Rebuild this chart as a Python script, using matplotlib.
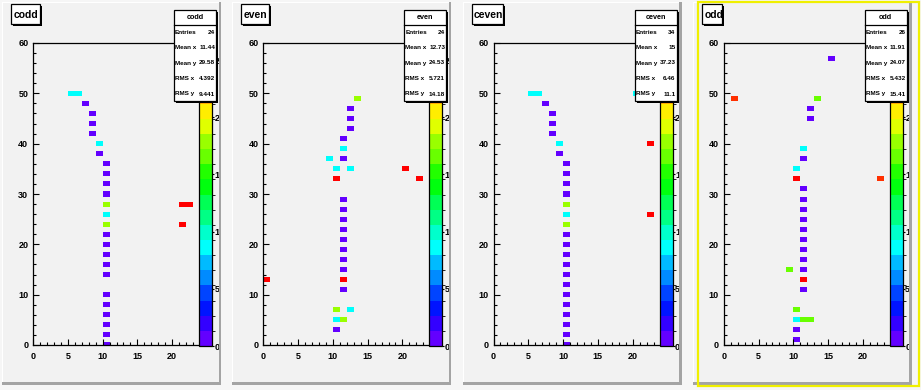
import colorsys
import numpy as np
import matplotlib
matplotlib.use("Agg")
import matplotlib.pyplot as plt
from matplotlib.colors import ListedColormap, BoundaryNorm
from matplotlib.patches import Rectangle

# ---------------- data ----------------
names = ["codd", "even", "ceven", "odd"]

codd_x = [5, 6, 7, 8, 8, 8, 9, 9, 10, 10, 10, 10, 10, 10, 10, 10, 10, 10, 10, 10,
          10, 10, 10, 10, 10, 10, 21, 22, 21]
codd_y = [50, 50, 48, 46, 44, 42, 40, 38, 36, 34, 32, 30, 28, 26, 24, 22, 20, 18,
          16, 14, 10, 8, 6, 4, 2, 0, 28, 28, 24]
codd_z = [9, 9, 1, 1, 1, 1, 9, 1, 1, 1, 1, 1, 18, 9, 18, 1, 1, 1, 1, 1, 1, 1, 1,
          1, 1, 1, 26.5, 26.5, 26]

even_x = [13, 12, 12, 12, 11, 11, 9, 11, 10, 12, 20, 10, 22, 11, 11, 11, 11, 11,
          11, 11, 11, 11, 0, 11, 10, 12, 10, 11, 10]
even_y = [49, 47, 45, 43, 41, 39, 37, 37, 35, 35, 35, 33, 33, 29, 27, 25, 23, 21,
          19, 17, 15, 13, 13, 11, 7, 7, 5, 5, 3]
even_z = [18, 1, 1, 1, 1, 9, 9, 1, 9, 9, 26, 26.5, 26, 1, 1, 1, 1, 1, 1, 1, 1, 26,
          26, 1, 18, 9, 9, 18, 1]

ceven_x = [5, 6, 7, 8, 8, 8, 9, 9, 10, 10, 10, 10, 10, 10, 10, 10, 10, 10, 10, 10,
           10, 10, 10, 10, 10, 10, 10, 20, 22, 22]
ceven_y = [50, 50, 48, 46, 44, 42, 40, 38, 36, 34, 32, 30, 28, 26, 24, 22, 20, 18,
           16, 14, 12, 10, 8, 6, 4, 2, 0, 50, 40, 26]
ceven_z = [9, 9, 1, 1, 1, 1, 9, 1, 1, 1, 1, 1, 18, 9, 18, 1, 1, 1, 1, 1, 1, 1, 1,
           1, 1, 1, 1, 9, 26.5, 26]

odd_x = [15, 1, 13, 12, 12, 11, 11, 10, 10, 22, 11, 11, 11, 11, 11, 11, 11, 11, 11,
         9, 11, 11, 10, 10, 11, 12, 10, 10]
odd_y = [57, 49, 49, 47, 45, 39, 37, 35, 33, 33, 31, 29, 27, 25, 23, 21, 19, 17, 15,
         15, 13, 11, 7, 5, 5, 5, 3, 1]
odd_z = [1, 24.5, 16.5, 1, 1, 9, 1, 9, 26.5, 24.5, 1, 1, 1, 1, 1, 1, 1, 1, 1,
         16.5, 26, 1, 16.5, 9, 16.5, 16.5, 1, 1]

stats_labels = ["Entries", "Mean x", "Mean y", "RMS x", "RMS y"]
codd_stats = ["24", "11.44", "29.58", "4.392", "9.441"]
even_stats = ["24", "12.73", "24.53", "5.721", "14.18"]
ceven_stats = ["34", "15", "37.23", "6.46", "11.1"]
odd_stats = ["26", "11.91", "24.07", "5.432", "15.41"]

x_ticks = [0, 5, 10, 15, 20]
y_ticks = [0, 10, 20, 30, 40, 50, 60]
z_ticks = [0, 5, 10, 15, 20, 25]
z_tick_labels = ["0", "5", "10", "15", "20", "25"]

panels = [
    (names[0], codd_x, codd_y, codd_z, codd_stats),
    (names[1], even_x, even_y, even_z, even_stats),
    (names[2], ceven_x, ceven_y, ceven_z, ceven_stats),
    (names[3], odd_x, odd_y, odd_z, odd_stats),
]

# ---------------- style ----------------
W, H = 921, 390
FONT = ["Liberation Sans", "DejaVu Sans"]
CANVAS = "#f6f6f6"
PADC = "#f2f2f2"
SHADOW = "#a4a4a4"


def root_palette(n=20):
    cols = []
    for j in range(n):
        idx = int((j + 0.99) * 50 / n)
        hue = max(280 - (idx + 1) * 5.6, 0)
        cols.append(colorsys.hls_to_rgb(hue / 360.0, 0.5, 1.0))
    return cols


cmap = ListedColormap(root_palette(20))

fig = plt.figure(figsize=(W / 100, H / 100), dpi=100)
fig.patch.set_facecolor(CANVAS)


def add_px(x, y, w, h, **kw):
    return fig.add_axes([x / W, 1 - (y + h) / H, w / W, h / H], **kw)


bg = fig.add_axes([0, 0, 1, 1], zorder=-5)
bg.set_xlim(0, W); bg.set_ylim(H, 0); bg.axis("off")
ov = fig.add_axes([0, 0, 1, 1], zorder=5)
ov.set_xlim(0, W); ov.set_ylim(H, 0); ov.axis("off")
ov.patch.set_alpha(0)

PAD_STEP = 230.25
title_w = [29, 28, 31, 20]

for k, (name, xs, ys, zs, st) in enumerate(panels):
    ox = k * PAD_STEP
    # pad background with bevel
    bg.add_patch(Rectangle((ox + 2, 2), 219, 383, fc=PADC, ec="none"))
    bg.add_patch(Rectangle((ox + 2, 2), 219, 1, fc="white", ec="none"))
    bg.add_patch(Rectangle((ox + 2, 2), 1, 383, fc="white", ec="none"))
    bg.add_patch(Rectangle((ox + 2, 382), 219, 3, fc=SHADOW, ec="none"))

    # histogram frame
    ax = add_px(ox + 33, 43, 167, 302, zorder=1)
    ax.set_facecolor("none")
    xe = np.arange(0, 25)
    ye = np.arange(-0.5, 61.0, 1.0)
    grid = np.full((61, 24), np.nan)
    for xv, yv, zv in zip(xs, ys, zs):
        grid[yv, xv] = zv
    zmax = max(zs)
    norm = BoundaryNorm(np.linspace(0, zmax, 21), 20, clip=True)
    mesh = ax.pcolormesh(xe, ye, np.ma.masked_invalid(grid), cmap=cmap, norm=norm)
    ax.set_xlim(0, 24)
    ax.set_ylim(0, 60)
    ax.set_xticks(x_ticks)
    ax.set_xticks(np.arange(0, 25), minor=True)
    ax.set_yticks(y_ticks)
    ax.set_yticks(np.arange(0, 61, 2), minor=True)
    ax.tick_params(which="both", direction="in", width=0.8, top=False, right=False,
                   colors="black")
    ax.tick_params(which="major", length=4.2)
    ax.tick_params(which="minor", length=2.0)
    ax.tick_params(axis="x", which="major", pad=5.0)
    ax.tick_params(axis="y", which="major", pad=3.4)
    for lab in ax.get_xticklabels() + ax.get_yticklabels():
        lab.set_fontfamily(FONT); lab.set_fontweight("bold"); lab.set_fontsize(6.5)
    for sp in ax.spines.values():
        sp.set_linewidth(0.9)
        sp.set_color("black")

    # palette
    cax = add_px(ox + 199, 43, 13, 303, zorder=1)
    cb = fig.colorbar(mesh, cax=cax)
    cb.outline.set_linewidth(0.9)
    cb.set_ticks([t for t in z_ticks if t <= zmax],
                 labels=[l for t, l in zip(z_ticks, z_tick_labels) if t <= zmax])
    cax.tick_params(direction="out", length=1.6, width=0.8, pad=0.2)
    for lab in cax.get_yticklabels():
        lab.set_fontfamily(FONT); lab.set_fontweight("bold"); lab.set_fontsize(6.5)

    # right shadow and gap (cover palette labels beyond pad)
    ov.add_patch(Rectangle((ox + 221, 0), PAD_STEP - 219, H, fc=CANVAS, ec="none"))
    ov.add_patch(Rectangle((ox + 218.5, 2), 2.5, 383, fc=SHADOW, ec="none"))
    ov.add_patch(Rectangle((ox + 2, 385), 219, 5, fc=CANVAS, ec="none"))

    # title box
    tw = title_w[k]
    ov.add_patch(Rectangle((ox + 13, 6), tw, 20, fc="black", ec="none"))
    ov.add_patch(Rectangle((ox + 11, 4), tw, 20, fc="white", ec="black", lw=0.9))
    ov.text(ox + 13.5, 14.5, name, ha="left", va="center", fontsize=7.5,
            fontweight="bold", family=FONT, color="black")

    # stats box
    ov.add_patch(Rectangle((ox + 176, 12), 42, 91, fc="black", ec="none"))
    ov.add_patch(Rectangle((ox + 174, 10), 42, 91, fc="white", ec="black", lw=0.9))
    ov.plot([ox + 174, ox + 216], [25, 25], color="black", lw=0.9)
    ov.text(ox + 195, 17.5, name, ha="center", va="center", fontsize=5.2,
            fontweight="bold", family=FONT)
    for i, (lbl, val) in enumerate(zip(stats_labels, st)):
        yy = 32 + i * 15.5
        ov.text(ox + 175, yy, lbl, ha="left", va="center", fontsize=4.6,
                fontweight="bold", family=FONT)
        ov.text(ox + 215, yy, val, ha="right", va="center", fontsize=4.6,
                fontweight="bold", family=FONT)

# selected pad highlight
ov.add_patch(Rectangle((3 * PAD_STEP + 7, 1.5), 221, 384, fc="none", ec="#f0f000", lw=1.6))

fig.savefig("out.png", dpi=100, facecolor=fig.get_facecolor())
